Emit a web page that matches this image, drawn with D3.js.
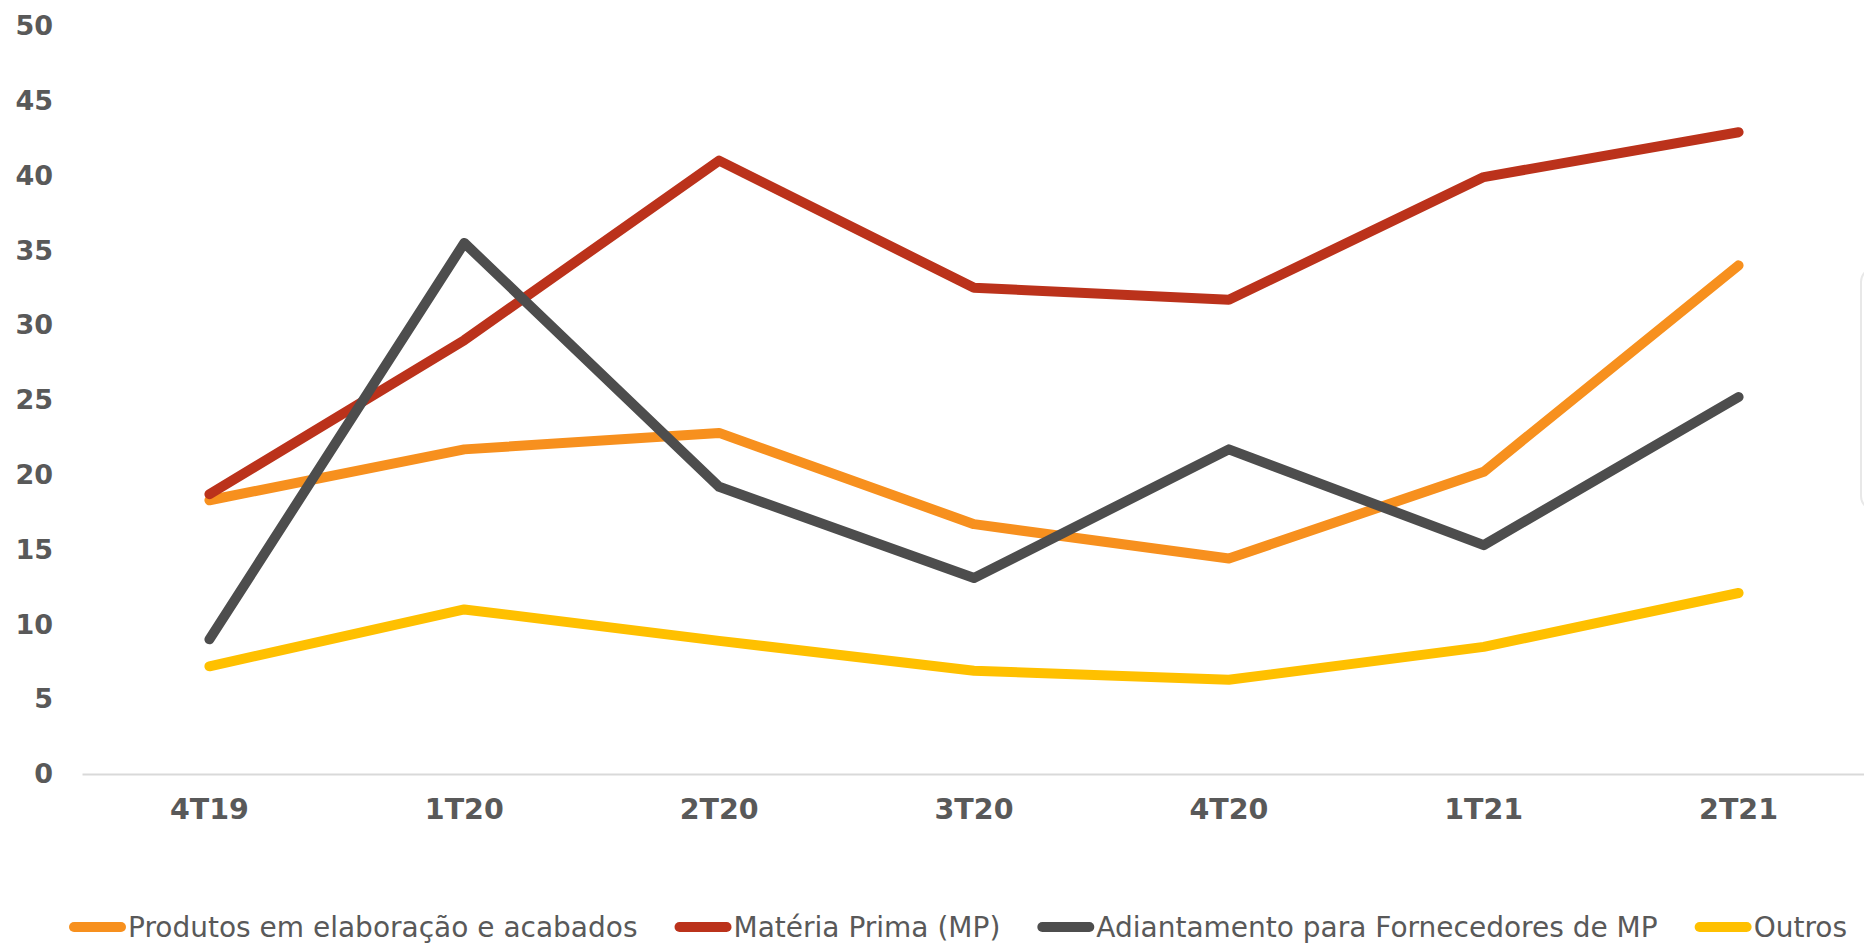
<!DOCTYPE html>
<meta http-equiv="content-type" content="text/html; charset=utf-8" />
<html>
  <head>
    <script src="https://d3js.org/d3.v7.min.js"></script>
    <style>
      body { margin: 0; background: #fff; }
      svg { display: block; }
    </style>
  </head>
  <body>
    <div id="viz"></div>
    <script>
      // quarters on the x axis
      let categories = ['4T19', '1T20', '2T20', '3T20', '4T20', '1T21', '2T21'];

      // series values
      let produtos     = [18.3, 21.7, 22.8, 16.7, 14.4, 20.2, 34.0];
      let materiaPrima = [18.7, 29.0, 41.0, 32.5, 31.7, 39.9, 42.9];
      let adiantamento = [ 9.0, 35.5, 19.2, 13.1, 21.7, 15.3, 25.2];
      let outros       = [ 7.2, 11.0,  8.9,  6.9,  6.3,  8.5, 12.1];

      let yTicks = [0, 5, 10, 15, 20, 25, 30, 35, 40, 45, 50];

      let seriesNames  = ['Produtos em elaboração e acabados', 'Matéria Prima (MP)', 'Adiantamento para Fornecedores de MP', 'Outros'];
      let seriesColors = ['#F7901E', '#BB321B', '#4D4D4D', '#FFC000'];

      let series = [produtos, materiaPrima, adiantamento, outros].map((values, i) => ({
        name: seriesNames[i],
        color: seriesColors[i],
        values: values
      }));

      let width = 1864,
          height = 944,
          margin = {top: 26, right: -2, bottom: 170, left: 82};

      let svg = d3.select('#viz')
        .append('svg')
        .attr('width', width)
        .attr('height', height)
        .style('font-family', '"DejaVu Sans", Verdana, sans-serif');

      let x = d3.scaleBand()
        .domain(categories)
        .range([margin.left, width - margin.right]);

      let y = d3.scaleLinear()
        .domain([0, 50])
        .range([height - margin.bottom, margin.top]);

      // y labels (no axis line, no gridlines)
      svg.append('g')
        .attr('transform', 'translate(53,0)')
        .call(d3.axisLeft(y).tickValues(yTicks).tickSize(0).tickPadding(0))
        .call(g => g.select('.domain').remove())
        .selectAll('text')
        .attr('fill', '#595959')
        .style('font-size', '27px')
        .style('font-weight', 'bold')
        .style('font-family', '"DejaVu Sans", Verdana, sans-serif');

      // x axis
      svg.append('g')
        .attr('transform', `translate(0,${y(0)})`)
        .call(d3.axisBottom(x).tickSize(0).tickPadding(25))
        .call(g => g.select('.domain').attr('stroke', '#D9D9D9').attr('stroke-width', 2))
        .selectAll('text')
        .attr('fill', '#595959')
        .style('font-size', '28.5px')
        .style('font-weight', 'bold')
        .style('font-family', '"DejaVu Sans", Verdana, sans-serif');

      let line = d3.line()
        .x((d, i) => x(categories[i]) + x.bandwidth() / 2)
        .y(d => y(d));

      svg.selectAll('.series')
        .data(series)
        .join('path')
        .attr('class', 'series')
        .attr('d', d => line(d.values))
        .attr('fill', 'none')
        .attr('stroke', d => d.color)
        .attr('stroke-width', 10)
        .attr('stroke-linecap', 'round')
        .attr('stroke-linejoin', 'round');

      // legend, laid out from the text widths
      let legend = svg.append('g').attr('transform', 'translate(69,927)');
      let lx = 0;
      series.forEach(s => {
        let item = legend.append('g').attr('transform', `translate(${lx},0)`);
        item.append('line')
          .attr('x1', 5).attr('x2', 52)
          .attr('y1', 0).attr('y2', 0)
          .attr('stroke', s.color)
          .attr('stroke-width', 10)
          .attr('stroke-linecap', 'round');
        let t = item.append('text')
          .attr('x', 59)
          .attr('dy', '0.35em')
          .attr('fill', '#595959')
          .style('font-size', '28px')
          .text(s.name);
        lx += 59 + t.node().getComputedTextLength() + 37;
      });

      // edge of a box cut off at the right side
      svg.append('rect')
        .attr('x', 1861).attr('y', 268)
        .attr('width', 40).attr('height', 242)
        .attr('rx', 14)
        .attr('fill', '#fff')
        .attr('stroke', '#E8E8E8')
        .attr('stroke-width', 2);
    </script>
  </body>
</html>
